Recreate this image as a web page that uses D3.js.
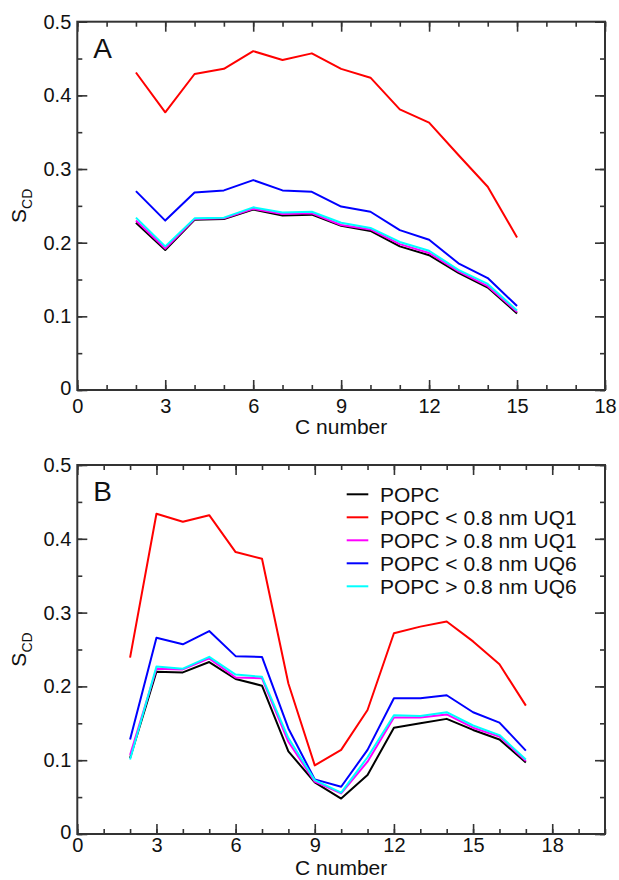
<!DOCTYPE html>
<html>
<head>
<meta charset="utf-8">
<script src="https://cdn.jsdelivr.net/npm/d3@7"></script>
<style>
  body { margin: 0; background: #fff; }
  svg { display: block; font-family: "Liberation Sans", Arial, Helvetica, sans-serif; }
  .axis path { display: none; }
  .axis line { stroke: #333; stroke-width: 1.6; }
  .axis text { font-size: 20px; fill: #111; }
  .frame { fill: none; stroke: #333; stroke-width: 2; }
  .series { fill: none; stroke-width: 2; stroke-linejoin: round; }
  .axis-title { font-size: 21px; fill: #111; }
  .panel-label { font-size: 28px; fill: #111; }
  .legend-text { font-size: 21px; fill: #111; }
</style>
</head>
<body>
<svg id="chart" width="619" height="880"></svg>
<script>
const width = 619;
const height = 880;

// series names + colours (legend order)
const seriesNames = ["POPC", "POPC < 0.8 nm UQ1", "POPC > 0.8 nm UQ1",
  "POPC < 0.8 nm UQ6", "POPC > 0.8 nm UQ6"];
const seriesColors = ["#000000", "#ff0000", "#ff00ff", "#0000ff", "#00ffff"];

// panel A : carbons 2..15
const carbonA = [2, 3, 4, 5, 6, 7, 8, 9, 10, 11, 12, 13, 14, 15];
const popcA     = [0.227, 0.190, 0.231, 0.232, 0.245, 0.237, 0.238, 0.223, 0.216, 0.195, 0.183, 0.159, 0.139, 0.104];
const uq1NearA  = [0.431, 0.377, 0.429, 0.436, 0.460, 0.448, 0.457, 0.436, 0.424, 0.381, 0.363, 0.319, 0.276, 0.207];
const uq1FarA   = [0.230, 0.192, 0.232, 0.233, 0.246, 0.239, 0.240, 0.224, 0.218, 0.198, 0.186, 0.161, 0.141, 0.106];
const uq6NearA  = [0.270, 0.230, 0.268, 0.271, 0.285, 0.271, 0.269, 0.249, 0.242, 0.217, 0.204, 0.172, 0.152, 0.114];
const uq6FarA   = [0.234, 0.195, 0.233, 0.234, 0.248, 0.241, 0.242, 0.227, 0.220, 0.201, 0.189, 0.163, 0.144, 0.108];

// panel B : carbons 2..17
const carbonB = [2, 3, 4, 5, 6, 7, 8, 9, 10, 11, 12, 13, 14, 15, 16, 17];
const popcB     = [0.103, 0.220, 0.219, 0.233, 0.210, 0.201, 0.112, 0.070, 0.048, 0.080, 0.144, 0.150, 0.156, 0.141, 0.128, 0.097];
const uq1NearB  = [0.239, 0.434, 0.423, 0.432, 0.382, 0.373, 0.204, 0.093, 0.114, 0.168, 0.272, 0.281, 0.288, 0.261, 0.230, 0.174];
const uq1FarB   = [0.107, 0.224, 0.223, 0.238, 0.212, 0.211, 0.125, 0.071, 0.055, 0.098, 0.158, 0.158, 0.162, 0.144, 0.132, 0.099];
const uq6NearB  = [0.128, 0.266, 0.257, 0.275, 0.241, 0.240, 0.143, 0.074, 0.064, 0.114, 0.184, 0.184, 0.188, 0.165, 0.151, 0.113];
const uq6FarB   = [0.101, 0.227, 0.224, 0.240, 0.216, 0.213, 0.130, 0.073, 0.056, 0.104, 0.161, 0.160, 0.165, 0.147, 0.134, 0.101];

// tick values
const yTicks = [0, 0.1, 0.2, 0.3, 0.4, 0.5];
const xTicks = [0, 3, 6, 9, 12, 15, 18];

let svg = d3.select("svg#chart");

/* PANEL A */
drawPanel({
  label: "A",
  left: 77.3, right: 605, top: 21.7, bottom: 390,
  xMax: 18,
  carbons: carbonA,
  series: [popcA, uq1NearA, uq1FarA, uq6NearA, uq6FarA],
  tickLabelY: 23,
  titleY: 434,
  legend: false
});

/* PANEL B */
drawPanel({
  label: "B",
  left: 77.3, right: 605, top: 465, bottom: 834,
  xMax: 20,
  carbons: carbonB,
  series: [popcB, uq1NearB, uq1FarB, uq6NearB, uq6FarB],
  tickLabelY: 18,
  titleY: 875,
  legend: true
});

function drawPanel(cfg) {
  const plotWidth = cfg.right - cfg.left;
  const plotHeight = cfg.bottom - cfg.top;

  const plot = svg.append("g").attr("transform", translate(cfg.left, cfg.top));

  let xScale = d3.scaleLinear().domain([0, cfg.xMax]).range([0, plotWidth]);
  let yScale = d3.scaleLinear().domain([0, 0.5]).range([plotHeight, 0]);

  const minorX = d3.range(0, cfg.xMax + 1, 1);
  const minorY = d3.range(0, 0.5001, 0.05);

  // minor ticks (inward, all four sides)
  plot.append("g").attr("class", "axis").attr("transform", translate(0, plotHeight))
    .call(d3.axisBottom(xScale).tickValues(minorX).tickSize(-5).tickFormat(""));
  plot.append("g").attr("class", "axis")
    .call(d3.axisTop(xScale).tickValues(minorX).tickSize(-5).tickFormat(""));
  plot.append("g").attr("class", "axis")
    .call(d3.axisLeft(yScale).tickValues(minorY).tickSize(-5).tickFormat(""));
  plot.append("g").attr("class", "axis").attr("transform", translate(plotWidth, 0))
    .call(d3.axisRight(yScale).tickValues(minorY).tickSize(-5).tickFormat(""));

  // major ticks
  let xGroup = plot.append("g").attr("class", "axis").attr("transform", translate(0, plotHeight))
    .call(d3.axisBottom(xScale).tickValues(xTicks).tickSize(-10).tickFormat(d3.format("d")));
  xGroup.selectAll("text").attr("y", cfg.tickLabelY).attr("dy", 0);
  plot.append("g").attr("class", "axis")
    .call(d3.axisTop(xScale).tickValues(xTicks).tickSize(-10).tickFormat(""));
  let yGroup = plot.append("g").attr("class", "axis")
    .call(d3.axisLeft(yScale).tickValues(yTicks).tickSize(-10)
      .tickFormat(d => d === 0 ? "0" : d3.format(".1f")(d)));
  yGroup.selectAll("text").attr("x", -6);
  // lift the "0" on y so the corner reads "0" above "0"
  yGroup.selectAll("text").filter(d => d === 0).attr("dy", "0.22em");
  plot.append("g").attr("class", "axis").attr("transform", translate(plotWidth, 0))
    .call(d3.axisRight(yScale).tickValues(yTicks).tickSize(-10).tickFormat(""));

  // lines
  const line = d3.line()
    .x((d, i) => xScale(cfg.carbons[i]))
    .y(d => yScale(d));

  const group = plot.append("g").attr("id", "lines-" + cfg.label);
  cfg.series.forEach(function(values, k) {
    group.append("path")
      .datum(values)
      .attr("class", "series")
      .attr("d", line)
      .style("stroke", seriesColors[k]);
  });

  // frame
  plot.append("rect")
    .attr("class", "frame")
    .attr("x", 0).attr("y", 0)
    .attr("width", plotWidth).attr("height", plotHeight);

  // panel letter
  plot.append("text")
    .attr("class", "panel-label")
    .attr("x", 16).attr("y", 36)
    .text(cfg.label);

  // x title
  svg.append("text")
    .attr("class", "axis-title")
    .attr("x", cfg.left + midpoint(xScale.range()))
    .attr("y", cfg.titleY)
    .attr("text-anchor", "middle")
    .text("C number");

  // y title S_CD
  const yTitle = svg.append("g")
    .attr("transform", translate(26, cfg.top + midpoint(yScale.range())))
    .append("text")
    .attr("class", "axis-title")
    .attr("text-anchor", "middle")
    .attr("transform", "rotate(-90)");
  yTitle.append("tspan").text("S");
  yTitle.append("tspan").attr("dy", 6).style("font-size", "14px").text("CD");

  if (cfg.legend) {
    const legendGroup = plot.append("g").attr("transform", translate(269.4, 29.3));
    seriesNames.forEach(function(name, k) {
      legendGroup.append("line")
        .attr("x1", 0).attr("x2", 21.6)
        .attr("y1", k * 23).attr("y2", k * 23)
        .style("stroke", seriesColors[k])
        .style("stroke-width", 2);
      legendGroup.append("text")
        .attr("class", "legend-text")
        .attr("x", 33.3)
        .attr("y", k * 23)
        .attr("dy", "0.36em")
        .text(name);
    });
  }
}

function midpoint(range) {
  return range[0] + (range[1] - range[0]) / 2.0;
}

function translate(x, y) {
  return 'translate(' + String(x) + ',' + String(y) + ')';
}
</script>
</body>
</html>
